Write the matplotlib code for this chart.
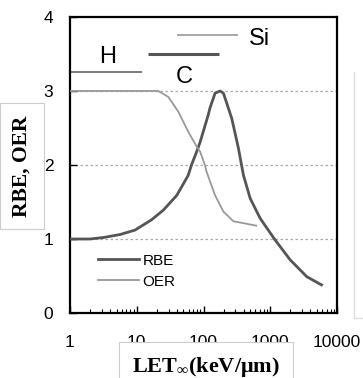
import matplotlib
matplotlib.use("Agg")
import matplotlib.pyplot as plt
from matplotlib.lines import Line2D
import numpy as np

plt.rcParams['font.family'] = ['Liberation Sans', 'DejaVu Sans']
plt.rcParams['mathtext.fontset'] = 'custom'
plt.rcParams['mathtext.rm'] = 'Liberation Serif:bold'
plt.rcParams['mathtext.it'] = 'Liberation Serif:bold'
plt.rcParams['mathtext.bf'] = 'Liberation Serif:bold'

# RBE curve
rbe_let = [1, 2, 3.16, 5.6, 9.4, 16.7, 25, 39.8, 59, 66, 79, 89, 99, 118, 125,
           149, 177, 199, 265, 333, 397, 500, 705, 1177, 1980, 3530, 5870]
rbe_val = [1.0, 1.0, 1.02, 1.06, 1.12, 1.26, 1.39, 1.59, 1.86, 2.0, 2.18, 2.31,
           2.45, 2.68, 2.77, 2.97, 3.0, 2.97, 2.63, 2.23, 1.86, 1.55, 1.28, 0.99,
           0.72, 0.49, 0.38]
# OER curve
oer_let = [1, 21, 29.7, 42, 59, 79, 89, 105, 111, 149, 199, 280, 418, 615]
oer_val = [3.0, 3.0, 2.92, 2.72, 2.45, 2.25, 2.18, 2.0, 1.91, 1.59, 1.37, 1.24,
           1.21, 1.18]

# ion ranges
ion_names = ['H', 'C', 'Si']
ion_lo = [1, 14.8, 40]
ion_hi = [12, 170, 330]
ion_y = [3.26, 3.5, 3.76]
ion_label_x = [3.6, 51, 700]
ion_label_y = [3.46, 3.19, 3.70]

xticks = [1, 10, 100, 1000, 10000]
xticklabels = ['1', '10', '100', '1000', '10000']
yticks = [0, 1, 2, 3, 4]

fig = plt.figure(figsize=(3.63, 3.78), dpi=100)
ax = fig.add_axes([70/363, 1-313/378, 267/363, 296/378])

for y in [1, 2, 3]:
    ax.axhline(y, color='#aaaaaa', lw=0.9, ls=(0, (2, 2)), zorder=1)

ax.plot(rbe_let, rbe_val, color='#555555', lw=2.0, label='RBE', zorder=3,
        solid_joinstyle='round')
ax.plot(oer_let, oer_val, color='#999999', lw=1.3, label='OER', zorder=3,
        solid_joinstyle='round')

ion_colors = ['#666666', '#555555', '#999999']
ion_lw = [1.2, 2.2, 1.2]
for n, lo, hi, yv, lx, ly, c, w in zip(ion_names, ion_lo, ion_hi, ion_y,
                                       ion_label_x, ion_label_y, ion_colors, ion_lw):
    ax.plot([lo, hi], [yv, yv], color=c, lw=w, solid_capstyle='butt')
    ax.text(lx, ly, n, fontsize=17, ha='center', va='center', color='black')

ax.set_xscale('log')
ax.set_xlim(1, 10000)
ax.set_ylim(0, 4)
ax.set_xticks(xticks)
ax.set_xticklabels(xticklabels)
ax.set_yticks(yticks)
ax.xaxis.set_minor_locator(matplotlib.ticker.LogLocator(base=10, subs=np.arange(2, 10)))
ax.xaxis.set_minor_formatter(matplotlib.ticker.NullFormatter())
ax.tick_params(axis='x', which='major', direction='in', length=5, width=1,
               labelsize=12.5, pad=16)
ax.tick_params(axis='x', which='minor', direction='in', length=3, width=0.8)
ax.tick_params(axis='y', which='major', direction='in', length=5, width=1,
               labelsize=12.5, pad=12)
for s in ax.spines.values():
    s.set_linewidth(1.6)
    s.set_color('black')

leg = ax.legend(loc='upper left', bbox_to_anchor=(0.105, 0.2), frameon=False,
                fontsize=11, handlelength=2.7, handletextpad=0.2,
                labelspacing=0.45, borderpad=0, borderaxespad=0)

# y label in a box
fig.text(22/363, 1-166/378, 'RBE, OER', rotation=90, ha='center', va='center',
         fontsize=15.5, fontweight='bold', family='Liberation Serif',
         bbox=dict(boxstyle='square,pad=0.55', fc='white', ec='#cccccc', lw=0.8))

# x label in a box (bottom edge runs past the figure, as in the original)
fig.text(206/363, 6/378, r'LET$_{\infty}$(keV/μm)', ha='center', va='baseline',
         fontsize=16, fontweight='bold', family='Liberation Serif',
         bbox=dict(boxstyle='square,pad=0.6', fc='white', ec='#cccccc', lw=0.8))

# neighbouring panel edge on the right
fig.add_artist(Line2D([354/363, 354/363], [1-72/378, 1-318/378],
                      transform=fig.transFigure, color='#dddddd', lw=1))
fig.add_artist(Line2D([354/363, 1.0], [1-318/378, 1-318/378],
                      transform=fig.transFigure, color='#dddddd', lw=1))

fig.savefig('out.png', dpi=100)
